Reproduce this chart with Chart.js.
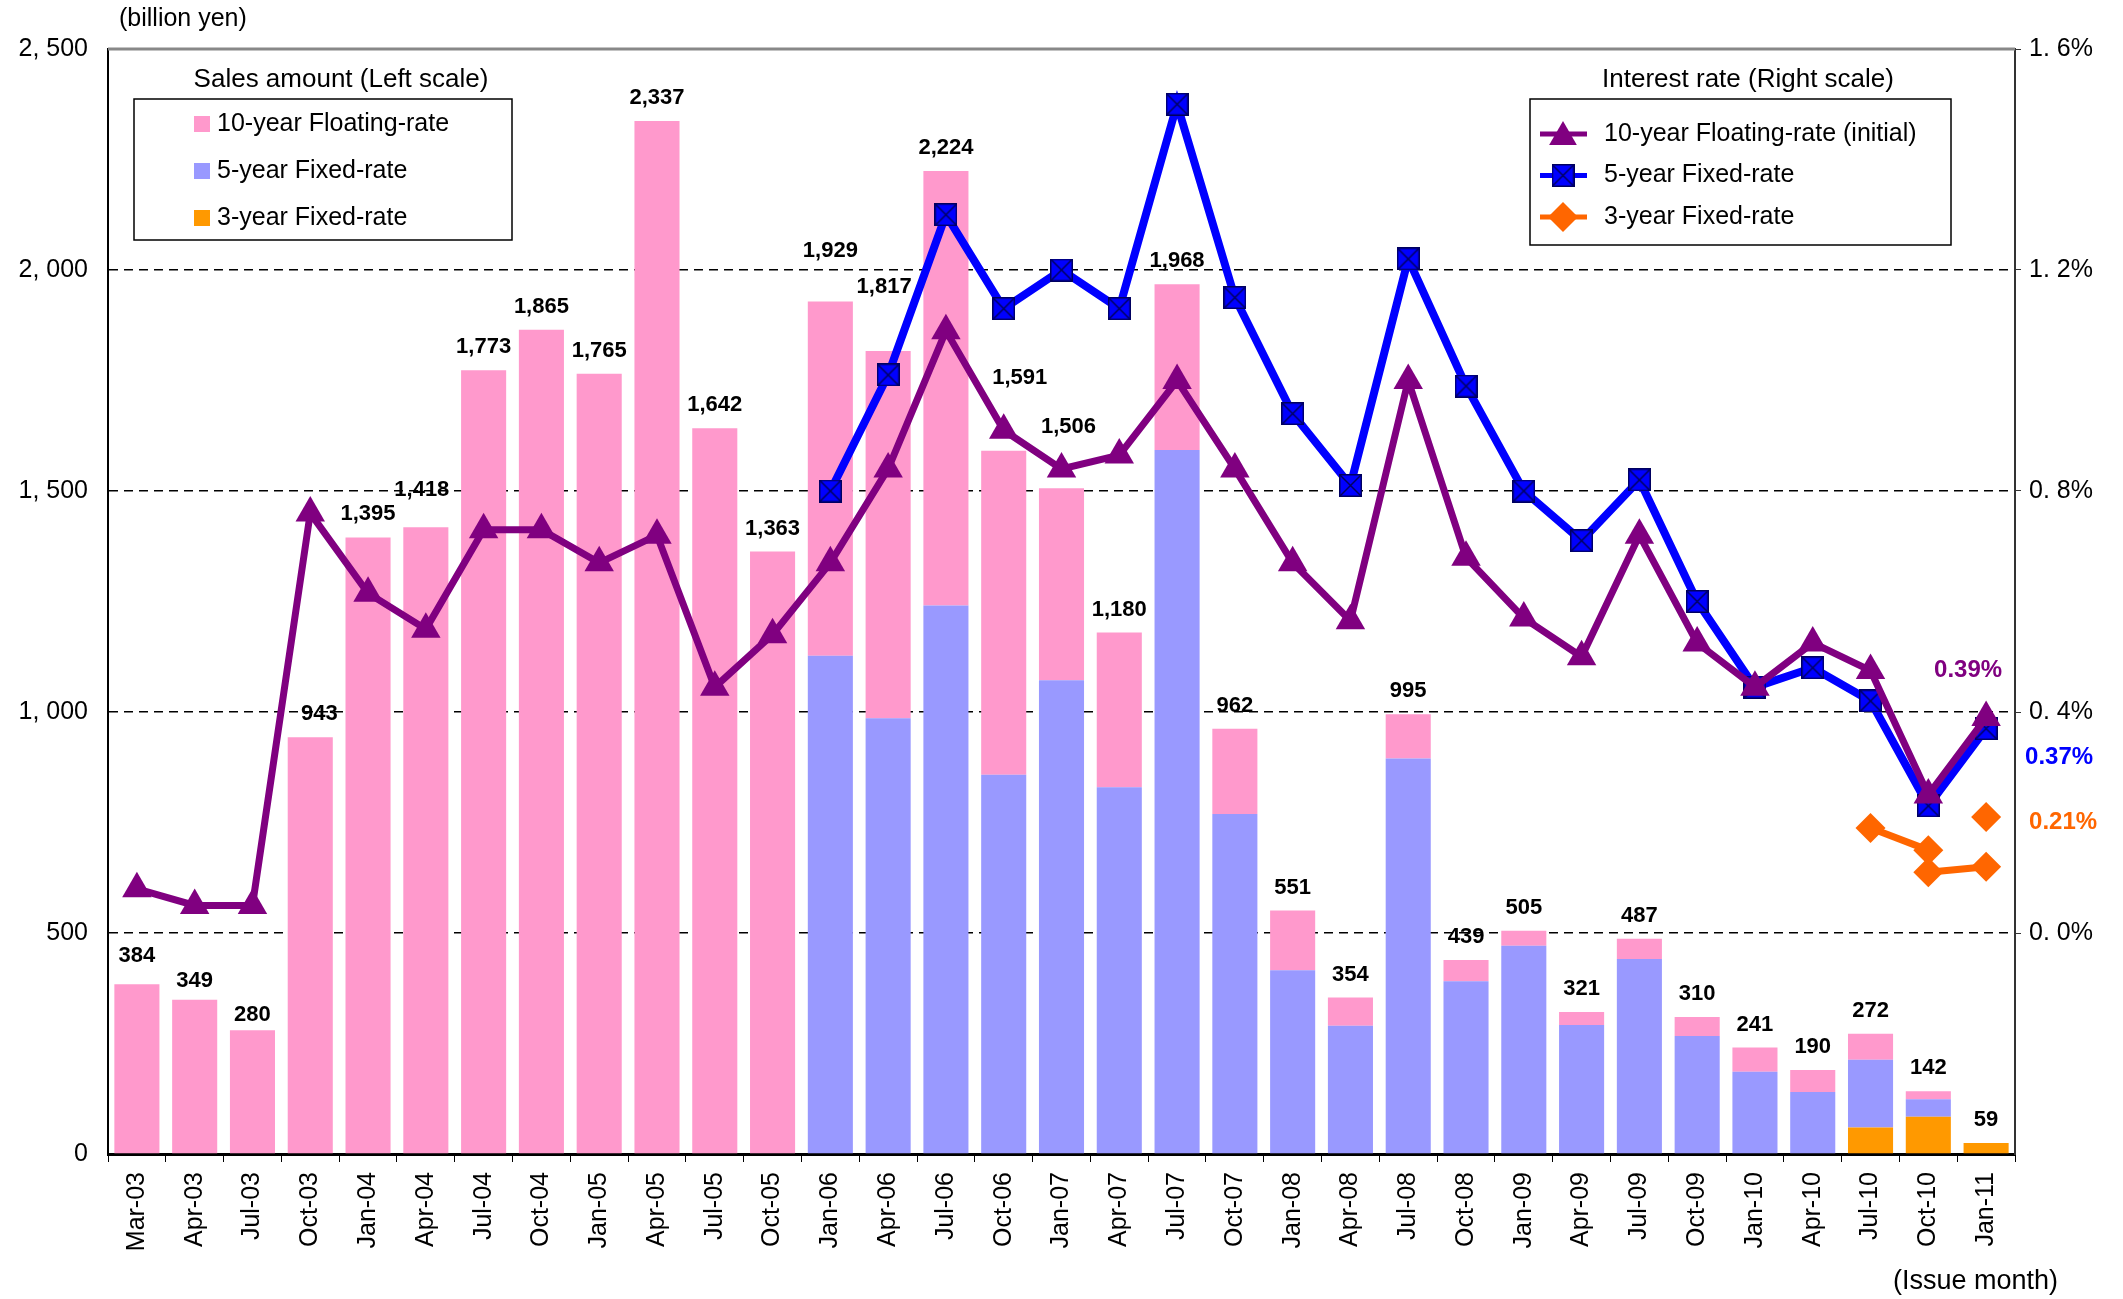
<!DOCTYPE html>
<html>
<head>
<meta charset="utf-8">
<script src="https://cdn.jsdelivr.net/npm/chart.js@4.4.1/dist/chart.umd.min.js"></script>
<style>
  html, body { margin: 0; padding: 0; background: #fff; }
  #wrap { width: 2123px; height: 1299px; }
</style>
</head>
<body>
<div id="wrap"><canvas id="chart" width="2123" height="1299"></canvas></div>
<script>
// issue months
const months = ['Mar-03', 'Apr-03', 'Jul-03', 'Oct-03', 'Jan-04', 'Apr-04', 'Jul-04', 'Oct-04',
  'Jan-05', 'Apr-05', 'Jul-05', 'Oct-05', 'Jan-06', 'Apr-06', 'Jul-06', 'Oct-06', 'Jan-07',
  'Apr-07', 'Jul-07', 'Oct-07', 'Jan-08', 'Apr-08', 'Jul-08', 'Oct-08', 'Jan-09', 'Apr-09',
  'Jul-09', 'Oct-09', 'Jan-10', 'Apr-10', 'Jul-10', 'Oct-10', 'Jan-11']

// sales amount, billion yen (labels printed above bars)
const salesTotal = [384, 349, 280, 943, 1395, 1418, 1773, 1865, 1765, 2337, 1642, 1363,
  1929, 1817, 2224, 1591, 1506, 1180, 1968, 962, 551, 354, 995, 439, 505, 321, 487, 310,
  241, 190, 272, 142, 59]
const sales10 = [384, 349, 280, 943, 1395, 1418, 1773, 1865, 1765, 2337, 1642, 1363,
  802, 831, 983, 733, 434, 350, 375, 193, 135, 64, 100, 48, 34, 29, 46, 43,
  55, 50, 59, 18, null]
const sales5 = [null, null, null, null, null, null, null, null, null, null, null, null,
  1127, 986, 1241, 858, 1072, 830, 1593, 769, 416, 290, 895, 391, 471, 292, 441, 267,
  186, 140, 153, 40, null]
const sales3 = [null, null, null, null, null, null, null, null, null, null, null, null,
  null, null, null, null, null, null, null, null, null, null, null, null, null, null, null, null,
  null, null, 60, 84, 25]

// interest rates, %
const rate10 = [0.08, 0.05, 0.05, 0.76, 0.615, 0.55, 0.73, 0.73, 0.67, 0.72, 0.445, 0.54,
  0.67, 0.84, 1.09, 0.91, 0.84, 0.865, 1.0, 0.84, 0.67, 0.565, 1.0, 0.68, 0.57, 0.5, 0.72, 0.525,
  0.445, 0.525, 0.475, 0.25, 0.39]
const rate5 = [null, null, null, null, null, null, null, null, null, null, null, null,
  0.8, 1.01, 1.3, 1.13, 1.2, 1.13, 1.5, 1.15, 0.94, 0.81, 1.22, 0.99, 0.8, 0.71, 0.82, 0.6,
  0.445, 0.48, 0.42, 0.23, 0.37]
const rate3a = [null, null, null, null, null, null, null, null, null, null, null, null,
  null, null, null, null, null, null, null, null, null, null, null, null, null, null, null, null,
  null, null, 0.19, 0.15, null]
const rate3b = [null, null, null, null, null, null, null, null, null, null, null, null,
  null, null, null, null, null, null, null, null, null, null, null, null, null, null, null, null,
  null, null, null, 0.11, 0.12]
const rate3c = [null, null, null, null, null, null, null, null, null, null, null, null,
  null, null, null, null, null, null, null, null, null, null, null, null, null, null, null, null,
  null, null, null, null, 0.21]

const leftTicks = [0, 500, 1000, 1500, 2000, 2500]
const rightTicks = [0, 0.4, 0.8, 1.2, 1.6]

const PINK = '#FF99CC', LILAC = '#9999FF', AMBER = '#FF9900'
const PURPLE = '#800080', BLUE = '#0000FF', ORANGE = '#FF6600'
const FONT = '"Liberation Sans", Arial, sans-serif'

// blue square with a cross, as in the original marker
function crossSquare(size) {
  const c = document.createElement('canvas')
  c.width = size; c.height = size
  const g = c.getContext('2d')
  g.fillStyle = BLUE
  g.fillRect(0, 0, size, size)
  g.strokeStyle = '#000060'
  g.lineWidth = 1.5
  g.strokeRect(0.75, 0.75, size - 1.5, size - 1.5)
  g.beginPath()
  g.moveTo(1, 1); g.lineTo(size - 1, size - 1)
  g.moveTo(size - 1, 1); g.lineTo(1, size - 1)
  g.stroke()
  return c
}
const squareMark = crossSquare(23)

// label nudges [dx, dy above bar top]
const labelNudge = {
  'Mar-03': [0, 28], 'Apr-03': [0, 19], 'Jul-03': [0, 15], 'Oct-03': [9, 23],
  'Apr-04': [-4, 37], 'Jan-06': [0, 50], 'Apr-06': [-4, 64], 'Oct-06': [16, 73], 'Jan-07': [7, 61]
}

function triangle(ctx, x, y, r) {
  ctx.beginPath()
  for (let k = 0; k < 3; k++) {
    const a = k * 2 * Math.PI / 3
    ctx.lineTo(x + Math.sin(a) * r, y - Math.cos(a) * r)
  }
  ctx.closePath(); ctx.fill()
}
function diamond(ctx, x, y, r) {
  ctx.beginPath()
  ctx.moveTo(x, y - r); ctx.lineTo(x + r, y); ctx.lineTo(x, y + r); ctx.lineTo(x - r, y)
  ctx.closePath(); ctx.fill()
}

const decorations = {
  id: 'decorations',
  afterDatasetsDraw(chart) {
    const { ctx, chartArea: area, scales } = chart
    const x = scales.x, y = scales.y, y1 = scales.y1
    ctx.save()

    // top frame line
    ctx.strokeStyle = '#888'
    ctx.lineWidth = 3
    ctx.beginPath(); ctx.moveTo(area.left, area.top); ctx.lineTo(area.right, area.top); ctx.stroke()

    // totals above bars
    ctx.fillStyle = '#000'
    ctx.font = 'bold 22px ' + FONT
    ctx.textAlign = 'center'
    ctx.textBaseline = 'middle'
    months.forEach((m, i) => {
      const top = (sales10[i] || 0) + (sales5[i] || 0) + (sales3[i] || 0)
      const nudge = labelNudge[m] || [0, 23]
      ctx.fillText(salesTotal[i].toLocaleString('en-US'), x.getPixelForValue(i) + nudge[0], y.getPixelForValue(top) - nudge[1])
    })

    // latest rate callouts
    const last = months.length - 1
    ctx.font = 'bold 24px ' + FONT
    ctx.fillStyle = PURPLE
    ctx.fillText(rate10[last].toFixed(2) + '%', x.getPixelForValue(last) - 18, y1.getPixelForValue(rate10[last]) - 47)
    ctx.fillStyle = BLUE
    ctx.fillText(rate5[last].toFixed(2) + '%', x.getPixelForValue(last) + 73, y1.getPixelForValue(rate5[last]) + 29)
    ctx.fillStyle = ORANGE
    ctx.fillText(rate3c[last].toFixed(2) + '%', x.getPixelForValue(last) + 77, y1.getPixelForValue(rate3c[last]) + 5)

    // unit captions
    ctx.fillStyle = '#000'
    ctx.font = '25px ' + FONT
    ctx.textAlign = 'left'
    ctx.fillText('(billion yen)', 119, 19)
    ctx.font = '27px ' + FONT
    ctx.textAlign = 'right'
    ctx.fillText('(Issue month)', 2058, 1282)

    // sales legend
    ctx.textAlign = 'center'
    ctx.font = '26px ' + FONT
    ctx.fillText('Sales amount (Left scale)', 341, 80)
    ctx.lineWidth = 1.5
    ctx.strokeStyle = '#000'
    ctx.strokeRect(134, 99, 378, 141)
    ctx.font = '25px ' + FONT
    ctx.textAlign = 'left'
    const barItems = [[PINK, '10-year Floating-rate'], [LILAC, '5-year Fixed-rate'], [AMBER, '3-year Fixed-rate']]
    barItems.forEach(([col, txt], k) => {
      const cy = 124 + k * 47
      ctx.fillStyle = col
      ctx.fillRect(194, cy - 8, 16, 16)
      ctx.fillStyle = '#000'
      ctx.fillText(txt, 217, cy)
    })

    // rate legend
    ctx.textAlign = 'center'
    ctx.font = '26px ' + FONT
    ctx.fillText('Interest rate (Right scale)', 1748, 80)
    ctx.strokeRect(1530, 99, 421, 146)
    ctx.font = '25px ' + FONT
    ctx.textAlign = 'left'
    const lineItems = [[PURPLE, '10-year Floating-rate (initial)'], [BLUE, '5-year Fixed-rate'], [ORANGE, '3-year Fixed-rate']]
    lineItems.forEach(([col, txt], k) => {
      const cy = 134 + k * 41.5
      ctx.strokeStyle = col
      ctx.lineWidth = 5
      ctx.beginPath(); ctx.moveTo(1540, cy); ctx.lineTo(1587, cy); ctx.stroke()
      ctx.fillStyle = col
      if (k === 0) triangle(ctx, 1563, cy + 3, 16)
      else if (k === 1) ctx.drawImage(squareMark, 1563 - 11.5, cy - 11.5)
      else diamond(ctx, 1563, cy, 15)
      ctx.fillStyle = '#000'
      ctx.fillText(txt, 1604, cy)
    })
    ctx.restore()
  },
}

const rateLine = (data, color, style, radius, width, order) => ({
  type: 'line',
  data: data,
  yAxisID: 'y1',
  borderColor: color,
  backgroundColor: color,
  borderWidth: width,
  pointStyle: style,
  pointRadius: radius,
  pointBorderWidth: 0,
  pointBackgroundColor: color,
  tension: 0,
  spanGaps: false,
  order: order,
})

new Chart(document.getElementById('chart'), {
  data: {
    labels: months,
    datasets: [
      { type: 'bar', data: sales3, backgroundColor: AMBER, order: 5, barPercentage: 0.78, categoryPercentage: 1 },
      { type: 'bar', data: sales5, backgroundColor: LILAC, order: 5, barPercentage: 0.78, categoryPercentage: 1 },
      { type: 'bar', data: sales10, backgroundColor: PINK, order: 5, barPercentage: 0.78, categoryPercentage: 1 },
      rateLine(rate3a, ORANGE, 'rectRot', 15, 7, 2),
      rateLine(rate3b, ORANGE, 'rectRot', 15, 7, 2),
      rateLine(rate3c, ORANGE, 'rectRot', 15, 7, 2),
      rateLine(rate5, BLUE, squareMark, 12, 8, 1),
      rateLine(rate10, PURPLE, 'triangle', 17, 7, 0),
    ],
  },
  options: {
    responsive: false,
    animation: false,
    devicePixelRatio: 1,
    layout: { padding: { top: 49, left: 0, right: 0, bottom: 0 } },
    plugins: { legend: { display: false }, tooltip: { enabled: false } },
    scales: {
      x: {
        stacked: true,
        offset: true,
        grid: { drawOnChartArea: false, drawTicks: true, tickLength: 8, tickColor: '#000', offset: true },
        border: { color: '#000', width: 3 },
        ticks: {
          autoSkip: false,
          minRotation: 90,
          maxRotation: 90,
          padding: 10,
          color: '#000',
          font: { family: FONT, size: 25 },
        },
        afterFit: (s) => { s.height = 145 },
      },
      y: {
        stacked: true,
        min: 0,
        max: 2500,
        afterBuildTicks: (s) => { s.ticks = leftTicks.map((v) => ({ value: v })) },
        grid: {
          drawTicks: false,
          lineWidth: 1.5,
          color: (c) => (c.tick && (c.tick.value === 0 || c.tick.value === 2500) ? 'rgba(0,0,0,0)' : '#000'),
        },
        border: { color: '#000', width: 2, dash: [9, 6] },
        ticks: {
          padding: 20,
          color: '#000',
          font: { family: FONT, size: 25 },
          callback: (v) => v.toLocaleString('en-US').replace(',', ', '),
        },
        afterFit: (s) => { s.width = 108 },
      },
      y1: {
        position: 'right',
        min: -0.4,
        max: 1.6,
        afterBuildTicks: (s) => { s.ticks = rightTicks.map((v) => ({ value: v })) },
        grid: { drawOnChartArea: false, drawTicks: true, tickLength: 6, tickColor: '#333' },
        border: { color: '#333', width: 2 },
        ticks: {
          padding: 8,
          color: '#000',
          font: { family: FONT, size: 25 },
          callback: (v) => v.toFixed(1).replace('.', '. ') + '%',
        },
        afterFit: (s) => { s.width = 108 },
      },
    },
  },
  plugins: [decorations],
})
</script>
</body>
</html>
